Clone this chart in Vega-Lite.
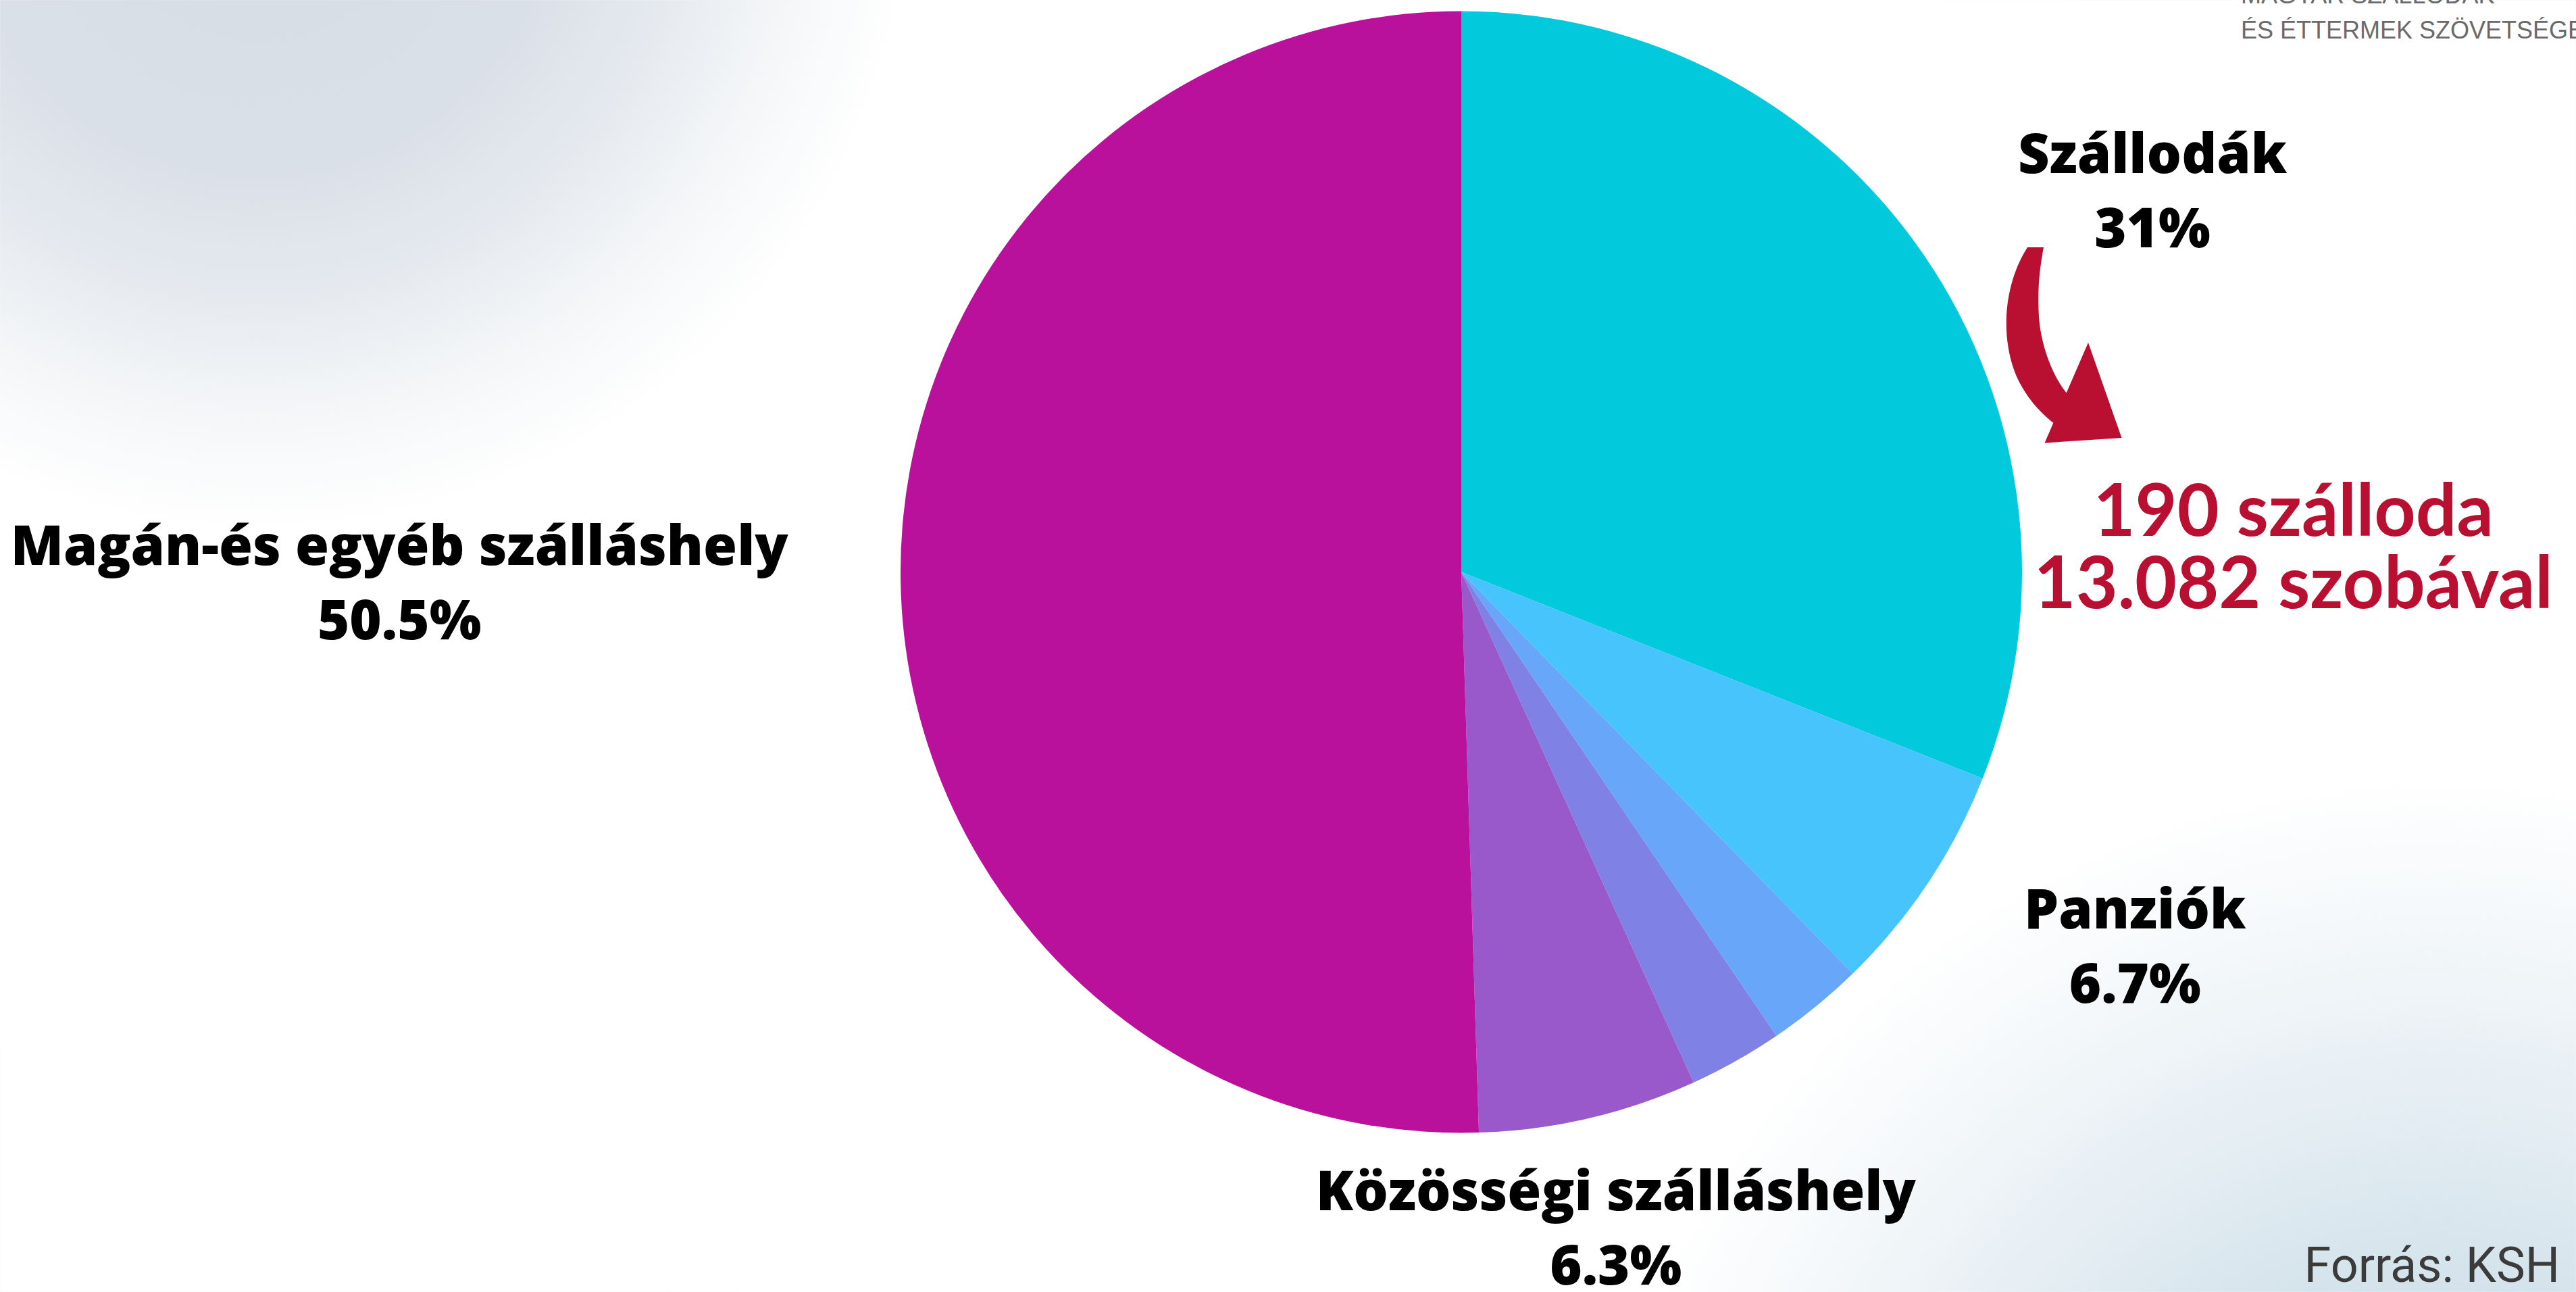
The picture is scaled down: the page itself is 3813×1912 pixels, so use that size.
{
  "$schema": "https://vega.github.io/schema/vega-lite/v6.json",
  "width": 3813,
  "height": 1912,
  "autosize": {"type": "none"},
  "padding": 0,
  "background": "#ffffff",
  "config": {"view": {"stroke": null}},
  "datasets": {
    "shares": [
      {"rank": 1, "name": "Szállodák", "value": 31.0, "label": "Szállodák\n31%", "note": "190 szálloda\n13.082 szobával"},
      {"rank": 2, "name": "Panziók", "value": 6.7, "label": "Panziók\n6.7%", "note": ""},
      {"rank": 3, "name": "Üdülőházak", "value": 2.8, "label": "", "note": ""},
      {"rank": 4, "name": "Kempingek", "value": 2.7, "label": "", "note": ""},
      {"rank": 5, "name": "Közösségi szálláshely", "value": 6.3, "label": "Közösségi szálláshely\n6.3%", "note": ""},
      {"rank": 6, "name": "Magán-és egyéb szálláshely", "value": 50.5, "label": "Magán-és egyéb szálláshely\n50.5%", "note": ""}
    ]
  },
  "layer": [
    {
      "data": {"values": [{"bg": "top-left"}]},
      "mark": {
        "type": "rect", "x": 0, "x2": "width", "y": 0, "y2": "height",
        "fill": {"gradient": "radial", "x1": 0.1, "y1": 0.2, "r1": 0, "x2": 0.1, "y2": 0.2, "r2": 0.255,
          "stops": [
            {"offset": 0, "color": "rgb(213,220,229)"},
            {"offset": 0.45, "color": "rgb(218,224,232)"},
            {"offset": 0.65, "color": "rgb(230,234,239)"},
            {"offset": 0.82, "color": "rgb(244,246,248)"},
            {"offset": 1, "color": "rgb(255,255,255)"}
          ]}
      },
      "encoding": {}
    },
    {
      "data": {"values": [{"bg": "bottom-right"}]},
      "mark": {
        "type": "rect", "x": 0, "x2": "width", "y": 0, "y2": "height",
        "fill": {"gradient": "radial", "x1": 0.9441, "y1": 0.8787, "r1": 0, "x2": 0.9441, "y2": 0.8787, "r2": 0.328,
          "stops": [
            {"offset": 0, "color": "rgba(203,220,231,1)"},
            {"offset": 0.42, "color": "rgba(211,226,235,0.95)"},
            {"offset": 0.6, "color": "rgba(211,226,235,0.62)"},
            {"offset": 0.8, "color": "rgba(211,226,235,0.28)"},
            {"offset": 1, "color": "rgba(211,226,235,0)"}
          ]}
      },
      "encoding": {}
    },
    {
      "data": {"name": "shares"},
      "encoding": {
        "theta": {"field": "value", "type": "quantitative", "stack": true},
        "order": {"field": "rank", "type": "quantitative"},
        "detail": {"field": "name", "type": "nominal"}
      },
      "layer": [
        {
          "mark": {"type": "arc", "radius": 830, "xOffset": 256.5, "yOffset": -109.5, "strokeWidth": 0},
          "encoding": {
            "color": {
              "field": "name", "type": "nominal", "legend": null,
              "scale": {
                "domain": ["Szállodák", "Panziók", "Üdülőházak", "Kempingek", "Közösségi szálláshely", "Magán-és egyéb szálláshely"],
                "range": ["#02C9DB", "#48C4FD", "#67A6F8", "#7F82E4", "#9A59CA", "#BA119C"]
              }
            }
          }
        },
        {
          "mark": {"type": "text", "radius": 1160, "xOffset": 256.5, "yOffset": -109.5, "dx": 63.6, "dy": 37.5,
            "font": "Open Sans", "fontWeight": 800, "fontSize": 81, "lineBreak": "\n", "lineHeight": 110,
            "align": "center", "baseline": "middle", "color": "#000000"},
          "encoding": {"text": {"condition": {"test": "datum.rank === 1", "field": "label", "type": "nominal"}, "value": ""}}
        },
        {
          "mark": {"type": "text", "radius": 1140, "xOffset": 256.5, "yOffset": -109.5, "dx": 48.4, "dy": -128,
            "font": "Open Sans", "fontWeight": 800, "fontSize": 81, "lineBreak": "\n", "lineHeight": 110,
            "align": "center", "baseline": "middle", "color": "#000000"},
          "encoding": {"text": {"condition": {"test": "datum.rank === 2", "field": "label", "type": "nominal"}, "value": ""}}
        },
        {
          "mark": {"type": "text", "radius": 1002, "xOffset": 256.5, "yOffset": -109.5, "dx": 1, "dy": -55,
            "font": "Open Sans", "fontWeight": 800, "fontSize": 81, "lineBreak": "\n", "lineHeight": 110,
            "align": "center", "baseline": "middle", "color": "#000000"},
          "encoding": {"text": {"condition": {"test": "datum.rank === 5", "field": "label", "type": "nominal"}, "value": ""}}
        },
        {
          "mark": {"type": "text", "radius": 1572, "xOffset": 256.5, "yOffset": -109.5, "dx": 0, "dy": -59,
            "font": "Open Sans", "fontWeight": 800, "fontSize": 81, "lineBreak": "\n", "lineHeight": 110,
            "align": "center", "baseline": "middle", "color": "#000000"},
          "encoding": {"text": {"condition": {"test": "datum.rank === 6", "field": "label", "type": "nominal"}, "value": ""}}
        },
        {
          "mark": {"type": "text", "radius": 1037, "xOffset": 256.5, "yOffset": -109.5, "dx": 374, "dy": 497,
            "font": "Lato", "fontWeight": 700, "fontSize": 107, "lineBreak": "\n", "lineHeight": 107,
            "align": "center", "baseline": "middle", "color": "#B90F31"},
          "encoding": {"text": {"condition": {"test": "datum.rank === 1", "field": "note", "type": "nominal"}, "value": ""}}
        }
      ]
    },
    {
      "data": {"values": [{"arrow": "Szállodák"}]},
      "mark": {
        "type": "point", "x": 3055, "y": 510, "size": 90000, "filled": true, "fill": "#B90F31", "opacity": 1, "strokeWidth": 0,
        "shape": "M -0.36 -0.96 C -0.62 -0.55 -0.62 0.0 -0.45 0.35 C -0.35 0.55 -0.22 0.68 -0.104 0.772 L -0.19 0.97 L 0.57 0.92 L 0.24 -0.02 L 0.025 0.475 C -0.08 0.35 -0.2 0.1 -0.24 -0.2 C -0.27 -0.5 -0.24 -0.75 -0.20 -0.96 Z"
      },
      "encoding": {}
    },
    {
      "data": {"values": [{"line": 1, "t": "MAGYAR SZÁLLODÁK"}]},
      "mark": {"type": "text", "x": 3317, "y": 5, "align": "left", "baseline": "alphabetic",
        "font": "Liberation Sans", "fontSize": 36, "color": "#6a6a6a"},
      "encoding": {"text": {"field": "t", "type": "nominal"}}
    },
    {
      "data": {"values": [{"line": 2, "t": "ÉS ÉTTERMEK SZÖVETSÉGE"}]},
      "mark": {"type": "text", "x": 3317, "y": 57, "align": "left", "baseline": "alphabetic",
        "font": "Liberation Sans", "fontSize": 36, "color": "#6a6a6a"},
      "encoding": {"text": {"field": "t", "type": "nominal"}}
    },
    {
      "data": {"values": [{"line": "logo rule"}]},
      "mark": {"type": "rule", "x": 3317, "x2": "width", "y": 75, "y2": 75, "stroke": "#8a8a8a", "strokeWidth": 3},
      "encoding": {}
    },
    {
      "data": {"values": [{"t": "Forrás: KSH"}]},
      "mark": {"type": "text", "x": 3789, "y": 1897, "align": "right", "baseline": "alphabetic",
        "font": "Roboto", "fontWeight": 400, "fontSize": 72, "color": "#3b3b3b"},
      "encoding": {"text": {"field": "t", "type": "nominal"}}
    }
  ]
}
